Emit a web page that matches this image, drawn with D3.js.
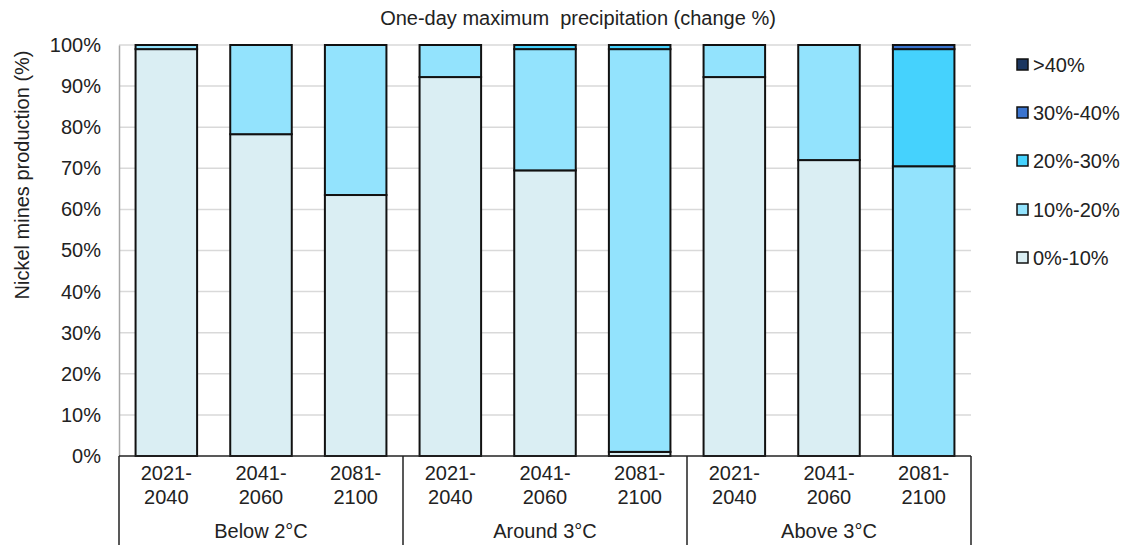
<!DOCTYPE html>
<html><head><meta charset="utf-8">
<script src="https://cdn.jsdelivr.net/npm/d3@7"></script>
<style>body{margin:0;background:#fff}svg{font-family:"Liberation Sans",Arial,sans-serif}</style>
</head><body><svg id="c" width="1128" height="547"></svg>
<script>
const groups = ["Below 2°C","Around 3°C","Above 3°C"];
const periods = ["2021-2040","2041-2060","2081-2100"];
const seriesNames = ["0%-10%","10%-20%","20%-30%","30%-40%",">40%"];
const colors = ["#DAEEF3","#93E3FD","#45D2FD","#3B74CF","#1B3660"];
// values per bar (group-major order), one array per series
const s0_10  = [99.0, 78.3, 63.5, 92.2, 69.5, 1.0, 92.2, 72.0, 0.0];
const s10_20 = [1.0, 21.7, 36.5, 7.8, 29.5, 98.0, 7.8, 28.0, 70.5];
const s20_30 = [0, 0, 0, 0, 1.0, 1.0, 0, 0, 28.5];
const s30_40 = [0, 0, 0, 0, 0, 0, 0, 0, 1.0];
const s40    = [0, 0, 0, 0, 0, 0, 0, 0, 0];
const yTicks = [0,10,20,30,40,50,60,70,80,90,100];

const series = [s0_10,s10_20,s20_30,s30_40,s40];
const cats = [];
groups.forEach(g=>periods.forEach(p=>cats.push(g+"|"+p)));
const rows = cats.map((c,i)=>{const o={cat:c};seriesNames.forEach((n,j)=>o[n]=series[j][i]);return o;});

const FS = 20;
const svg = d3.select("#c");
const L=119, R=971, T=45, B=456;
const x = d3.scaleBand().domain(cats).range([L,R]).paddingInner(0.35).paddingOuter(0.175);
const y = d3.scaleLinear().domain([0,100]).range([B,T]);

// gridlines
svg.append("g").selectAll("line").data(yTicks.filter(d=>d>0)).join("line")
  .attr("x1",L).attr("x2",R).attr("y1",d=>y(d)).attr("y2",d=>y(d))
  .attr("stroke","#D9D9D9").attr("stroke-width",1.5);

const stack = d3.stack().keys(seriesNames)(rows);
svg.append("g").selectAll("g").data(stack).join("g")
  .attr("fill",(d,i)=>colors[i])
  .selectAll("rect").data(d=>d.filter(e=>e[1]-e[0]>0)).join("rect")
  .attr("x",d=>x(d.data.cat)).attr("width",x.bandwidth())
  .attr("y",d=>y(d[1])).attr("height",d=>y(d[0])-y(d[1]))
  .attr("stroke","#111").attr("stroke-width",2);

// y axis
const ya = svg.append("g").attr("transform",`translate(${L},0)`)
  .call(d3.axisLeft(y).tickValues(yTicks).tickFormat(d=>d+"%").tickSize(0).tickPadding(18));
ya.select(".domain").attr("stroke","#A6A6A6").attr("stroke-width",1.5);
ya.selectAll("text").attr("font-size",FS).attr("fill","#222").attr("font-family","Liberation Sans, Arial");

// category axis
svg.append("line").attr("x1",L).attr("x2",R).attr("y1",B).attr("y2",B).attr("stroke","#222").attr("stroke-width",1.5);
const gw = (R-L)/groups.length;
d3.range(groups.length+1).forEach(i=>{
  svg.append("line").attr("x1",L+i*gw).attr("x2",L+i*gw).attr("y1",B).attr("y2",545)
    .attr("stroke","#222").attr("stroke-width",1.5);
});
const ct = svg.append("g").selectAll("text").data(cats).join("text")
  .attr("x",d=>x(d)+x.bandwidth()/2).attr("text-anchor","middle")
  .attr("font-size",FS).attr("fill","#222");
ct.append("tspan").attr("x",d=>x(d)+x.bandwidth()/2).attr("y",480).text(d=>d.split("|")[1].split("-")[0]+"-");
ct.append("tspan").attr("x",d=>x(d)+x.bandwidth()/2).attr("y",504).text(d=>d.split("|")[1].split("-")[1]);
svg.append("g").selectAll("text").data(groups).join("text")
  .attr("x",(d,i)=>L+gw*(i+0.5)).attr("y",538).attr("text-anchor","middle")
  .attr("font-size",FS).attr("fill","#222").text(d=>d);

// titles
svg.append("text").attr("x",578).attr("y",25).attr("text-anchor","middle").attr("font-size",FS).attr("fill","#222")
  .style("white-space","pre").text("One-day maximum  precipitation (change %)");
svg.append("text").attr("transform","translate(29,175) rotate(-90)").attr("text-anchor","middle")
  .attr("font-size",FS).attr("fill","#222").text("Nickel mines production (%)");

// legend
const legY = [65,113,161,210,258];
const lg = svg.append("g").selectAll("g").data(seriesNames.slice().reverse()).join("g")
  .attr("transform",(d,i)=>`translate(1017,${legY[i]})`);
lg.append("rect").attr("x",0).attr("y",-6).attr("width",11).attr("height",11)
  .attr("fill",d=>colors[seriesNames.indexOf(d)]).attr("stroke","#111").attr("stroke-width",1.5);
lg.append("text").attr("x",16).attr("y",7).attr("font-size",FS).attr("fill","#222").text(d=>d);
</script></body></html>
